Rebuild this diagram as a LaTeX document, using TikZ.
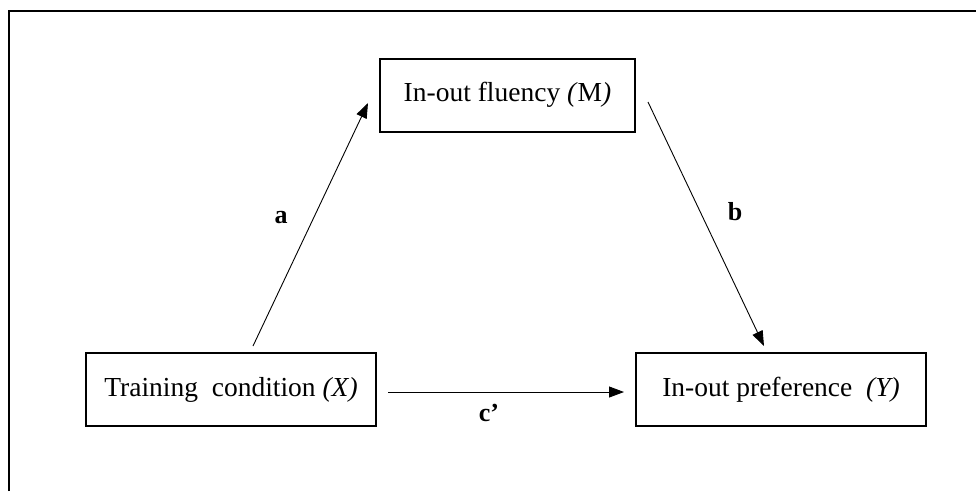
\documentclass[tikz,border=0pt]{standalone}
\usepackage{fontspec}
\setmainfont{Liberation Serif}
\usetikzlibrary{arrows.meta}
\tikzset{
  varbox/.style={draw, line width=2pt, minimum height=73pt, inner sep=0pt,
    font=\fontsize{27.5}{33}\selectfont},
  patharrow/.style={-{Triangle[length=15pt,width=11pt]}, line width=0.9pt},
  pathlabel/.style={font=\fontsize{26}{31}\selectfont\bfseries}
}

\begin{document}
\begin{tikzpicture}[x=1pt, y=-1pt]
    \useasboundingbox (0,0) rectangle (976,491);
    \draw[line width=2.5pt] (9,491) -- (9,11) -- (976,11);
    \node[varbox, minimum width=255pt] (fluency) at (507.5,95) {In-out fluency \textit{(}M\textit{)}};
    \node[varbox, minimum width=290pt] (training) at (231,389.5) {Training\ \ condition \textit{(X)}};
    \node[varbox, minimum width=290pt] (preference) at (781,389.5) {In-out preference\ \ \textit{(Y)}};
    \draw[patharrow] ([xshift=22pt,yshift=6pt]training.north) -- ([xshift=-11pt,yshift=-8pt]fluency.west);
    \draw[patharrow] ([xshift=12pt,yshift=-7pt]fluency.east) -- ([xshift=-17pt,yshift=6pt]preference.north);
    \draw[patharrow] ([xshift=11pt,yshift=-2.5pt]training.east) -- ([xshift=-11pt,yshift=-2.5pt]preference.west);
    \node[pathlabel] (la) at (281,218) {a};
    \node[pathlabel] (lb) at (735,212) {b};
    \node[pathlabel] (lc) at (489,413) {c'};
  \end{tikzpicture}
\end{document}
